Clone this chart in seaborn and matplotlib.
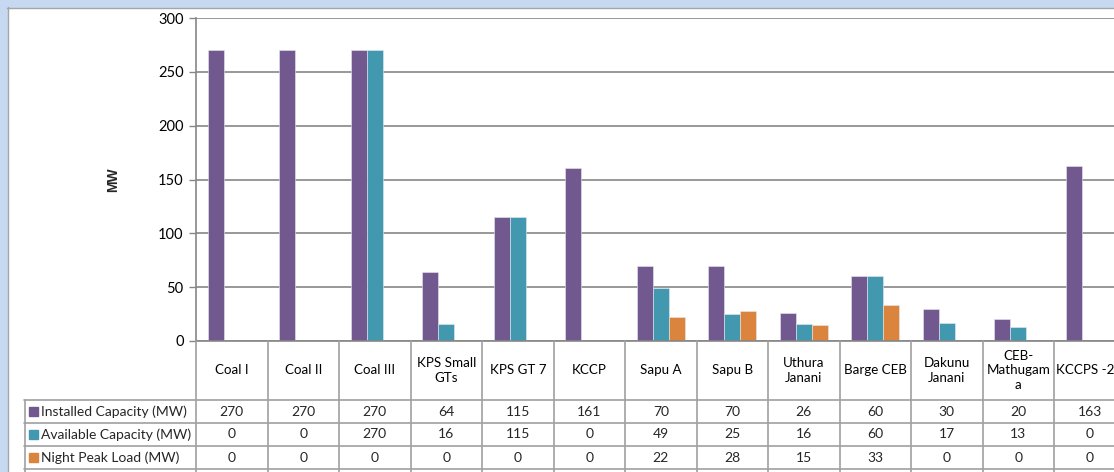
import matplotlib
matplotlib.use("Agg")
import matplotlib.pyplot as plt
import seaborn as sns
import pandas as pd
from matplotlib.patches import Rectangle
from matplotlib.lines import Line2D

categories = ["Coal I", "Coal II", "Coal III", "KPS Small\nGTs", "KPS GT 7", "KCCP",
              "Sapu A", "Sapu B", "Uthura\nJanani", "Barge CEB", "Dakunu\nJanani",
              "CEB-\nMathugam\na", "KCCPS -2"]
installed = [270, 270, 270, 64, 115, 161, 70, 70, 26, 60, 30, 20, 163]
available = [0, 0, 270, 16, 115, 0, 49, 25, 16, 60, 17, 13, 0]
night_peak = [0, 0, 0, 0, 0, 0, 22, 28, 15, 33, 0, 0, 0]
series_names = ["Installed Capacity (MW)", "Available Capacity (MW)", "Night Peak Load (MW)"]
colors = ["#71588F", "#4198AF", "#DB843D"]
y_ticks = [0, 50, 100, 150, 200, 250, 300]

sns.set_theme(style="white")
plt.rcParams["font.family"] = ["Lato", "DejaVu Sans"]

rows = []
for name, vals in zip(series_names, [installed, available, night_peak]):
    for c, v in zip(categories, vals):
        rows.append({"cat": c, "series": name, "val": v})
df = pd.DataFrame(rows)

W, H = 1114, 472
fig = plt.figure(figsize=(W / 100, H / 100), dpi=100)
fig.patch.set_facecolor("white")

# outer frame (light blue strips)
frame_col = "#C6D9F1"
fig.add_artist(Rectangle((0, 1 - 7 / H), 1, 7 / H, transform=fig.transFigure, color=frame_col, zorder=0))
fig.add_artist(Rectangle((0, 0), 7 / W, 1, transform=fig.transFigure, color=frame_col, zorder=0))
fig.add_artist(Line2D([7 / W, 1], [1 - 7.5 / H] * 2, transform=fig.transFigure, color="#A5A5A5", lw=1))
fig.add_artist(Line2D([7.5 / W] * 2, [0, 1 - 7 / H], transform=fig.transFigure, color="#A5A5A5", lw=1))

left_px, right_px, top_px, zero_px = 196, 196 + 71.5 * 13, 18, 341
ax = fig.add_axes([left_px / W, 1 - zero_px / H, (right_px - left_px) / W, (zero_px - top_px) / H])

sns.barplot(data=df, x="cat", y="val", hue="series", hue_order=series_names,
            palette=colors, width=0.67, gap=0, ax=ax, legend=False,
            edgecolor="#E8E8F0", linewidth=0.4, saturation=1)

ax.set_xlim(-0.5, len(categories) - 0.5)
ax.set_ylim(0, 300)
ax.set_yticks(y_ticks)
ax.set_yticklabels([str(t) for t in y_ticks], fontsize=10.5, color="#000000")
ax.set_xticks([])
ax.set_xlabel("")
ax.set_ylabel("MW", fontsize=10, fontweight="bold", family=["Liberation Sans", "DejaVu Sans"])
ax.yaxis.set_label_coords((113 - left_px) / (right_px - left_px), (zero_px - 180) / (zero_px - top_px))
ax.yaxis.label.set_va("center")
ax.yaxis.grid(True, color="#868686", lw=1.2)
ax.set_axisbelow(True)
ax.tick_params(axis="y", which="both", left=True, length=5, width=1, color="#868686", pad=4)
for s in ["top", "right"]:
    ax.spines[s].set_visible(False)
ax.spines["left"].set_color("#868686")
ax.spines["bottom"].set_color("#868686")
ax.spines["left"].set_linewidth(1.2)
ax.spines["bottom"].set_linewidth(1.2)

# data table below the axes
blend = matplotlib.transforms.blended_transform_factory(ax.transData, fig.transFigure)
def fy(px):
    return 1 - px / H

grid_col = "#A0A0A0"
row_lines = [400, 423, 446, 469]
n = len(categories)
for k in range(n + 1):
    fig.add_artist(Line2D([k - 0.5, k - 0.5], [fy(zero_px), fy(472)], transform=blend,
                          color=grid_col, lw=1.2))
for yp in row_lines:
    fig.add_artist(Line2D([24 / W, 1], [fy(yp)] * 2, transform=fig.transFigure, color=grid_col, lw=1.2))
fig.add_artist(Line2D([24.5 / W] * 2, [fy(400), fy(472)], transform=fig.transFigure, color=grid_col, lw=1.2))

for i, c in enumerate(categories):
    fig.text(i - (0.07 if i == n - 1 else 0), fy(370.5), c, transform=blend, ha="center", va="center",
             fontsize=9.6, linespacing=1.25, color="#000000")

row_centers = [411.5, 434.5, 457.5]
for r, (name, vals, col) in enumerate(zip(series_names, [installed, available, night_peak], colors)):
    yc = fy(row_centers[r])
    fig.add_artist(Rectangle((29 / W, yc - 4.5 / H), 9 / W, 9 / H, transform=fig.transFigure,
                             color=col))
    fig.text(41 / W, yc, name, transform=fig.transFigure, ha="left", va="center", fontsize=10)
    for i, v in enumerate(vals):
        fig.text(i, yc, str(v), transform=blend, ha="center", va="center", fontsize=10)

fig.savefig("out.png", dpi=100)
